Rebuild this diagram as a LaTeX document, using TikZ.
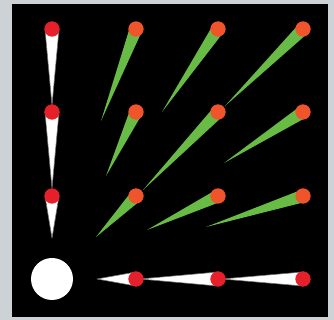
\documentclass[tikz,border=0pt]{standalone}
\usetikzlibrary{calc}
\definecolor{frame}{HTML}{CDD2D6}
\definecolor{leaf}{HTML}{68BC45}
\definecolor{ember}{HTML}{F0542A}
\definecolor{spark}{HTML}{E6202A}
\tikzset{sun/.style={circle,fill=white,inner sep=0pt,minimum size=1.26cm},
 reddot/.style={circle,fill=spark,inner sep=0pt,minimum size=0.46cm},
 orangedot/.style={circle,fill=ember,inner sep=0pt,minimum size=0.46cm},
 whitetail/.style={fill=white,draw=white!45!black,line width=0.5pt,line join=round},
 greentail/.style={fill=leaf}}

\begin{document}
\begin{tikzpicture}[x=0.03cm,y=-0.03cm]
\useasboundingbox (0,0) rectangle (334,320);
\fill[frame] (0,0) rectangle (334,320);
\fill[black] (12,4) rectangle (328,317);
\node[sun] (sun) at (52,279) {};
% heads
\coordinate (w1) at (52,29);  \coordinate (w2) at (52,112);  \coordinate (w3) at (52,196);
\coordinate (b1) at (136,279); \coordinate (b2) at (218,279); \coordinate (b3) at (303,279);
\coordinate (g11) at (136,196); \coordinate (g21) at (218,196); \coordinate (g31) at (303,196);
\coordinate (g12) at (136,112); \coordinate (g22) at (218,112); \coordinate (g32) at (303,112);
\coordinate (g13) at (136,29);  \coordinate (g23) at (218,29);  \coordinate (g33) at (303,29);
% tail ends
\coordinate (tw1) at (52,105);  \coordinate (tw2) at (52,188);  \coordinate (tw3) at (52,238);
\coordinate (tb1) at (97,279);  \coordinate (tb2) at (140,279); \coordinate (tb3) at (222,279);
\coordinate (tg11) at (96,237);  \coordinate (tg21) at (147,230); \coordinate (tg31) at (206,227);
\coordinate (tg12) at (106,176); \coordinate (tg22) at (143,190); \coordinate (tg32) at (224,163);
\coordinate (tg13) at (101,121); \coordinate (tg23) at (162,112); \coordinate (tg33) at (225,106);
% tails
\foreach \h in {w1,w2,w3,b1,b2,b3}
 \filldraw[whitetail] ($(\h)!0.21cm!90:(t\h)$) -- (t\h) -- ($(\h)!0.21cm!-90:(t\h)$) -- cycle;
\foreach \h in {g11,g21,g31,g12,g22,g32,g13,g23,g33}
 \fill[greentail] ($(\h)!0.19cm!90:(t\h)$) -- (t\h) -- ($(\h)!0.19cm!-90:(t\h)$) -- cycle;
% heads on top
\foreach \h in {w1,w2,w3,b1,b2,b3}
 \node[reddot] (d\h) at (\h) {};
\foreach \h in {g11,g21,g31,g12,g22,g32,g13,g23,g33}
 \node[orangedot] (d\h) at (\h) {};
\end{tikzpicture}
\end{document}
